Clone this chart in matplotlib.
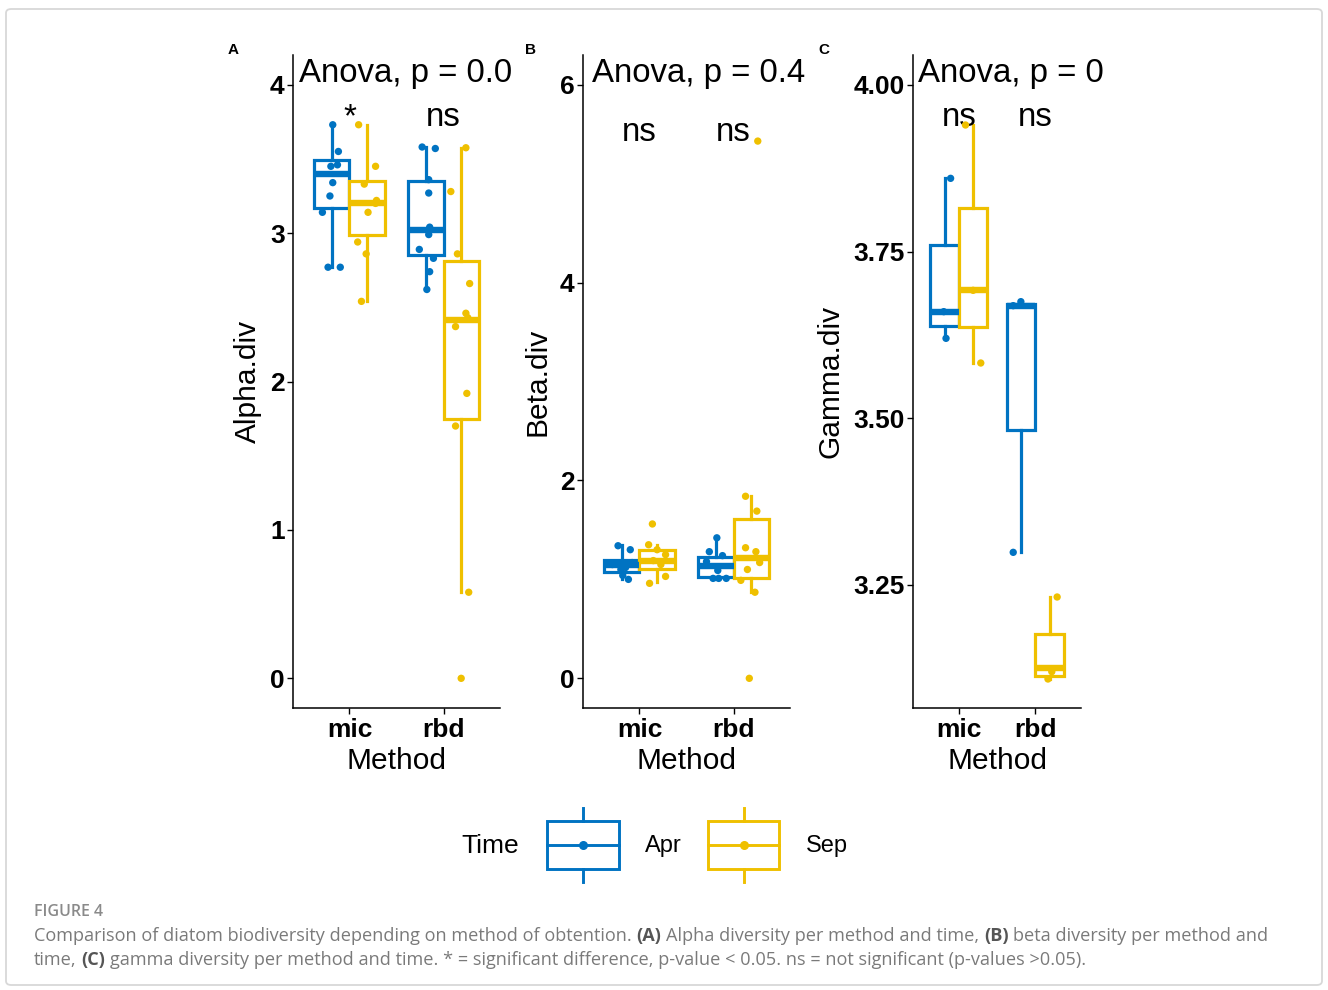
import matplotlib
matplotlib.use('Agg')
import matplotlib.pyplot as plt
from matplotlib.patches import Rectangle, FancyBboxPatch

plt.rcParams['font.family'] = ['Liberation Sans', 'DejaVu Sans']

BLUE = '#0073C2'
YELLOW = '#EFC000'

methods = ['mic', 'rbd']
times = ['Apr', 'Sep']

# box stats per group (mic-Apr, mic-Sep, rbd-Apr, rbd-Sep): lo whisker, q1, median, q3, hi whisker
alpha_stats = [[2.77, 3.17, 3.40, 3.49, 3.73],
               [2.54, 2.99, 3.20, 3.35, 3.73],
               [2.62, 2.85, 3.02, 3.35, 3.58],
               [0.58, 1.75, 2.415, 2.81, 3.575]]
alpha_pts = [[3.73, 3.55, 3.45, 3.46, 3.34, 3.25, 3.14, 2.77, 2.77],
             [3.73, 3.45, 3.33, 3.22, 3.20, 3.14, 2.94, 2.86, 2.54],
             [3.58, 3.57, 3.36, 3.27, 3.04, 2.99, 2.89, 2.83, 2.74, 2.62],
             [3.575, 3.28, 2.86, 2.66, 2.46, 2.37, 2.43, 1.92, 1.70, 0.58, 0.0]]
alpha_jit = [[0.01, 0.07, -0.01, 0.06, 0.01, -0.02, -0.10, -0.04, 0.09],
             [-0.09, 0.09, -0.03, 0.10, 0.09, 0.01, -0.10, -0.01, -0.06],
             [-0.04, 0.10, 0.03, 0.03, 0.04, 0.03, -0.07, 0.08, 0.04, 0.01],
             [0.05, -0.11, -0.04, 0.09, 0.05, -0.06, 0.07, 0.06, -0.06, 0.08, 0.0]]

beta_stats = [[1.00, 1.07, 1.15, 1.20, 1.35],
              [0.97, 1.10, 1.19, 1.30, 1.35],
              [1.00, 1.02, 1.14, 1.23, 1.42],
              [0.87, 1.01, 1.22, 1.61, 1.84]]
beta_pts = [[1.34, 1.30, 1.00, 1.04, 1.15, 1.12, 1.17, 1.10],
            [1.56, 1.35, 1.30, 1.25, 0.96, 1.03, 1.19, 1.15],
            [1.42, 1.28, 1.09, 1.01, 1.01, 1.01, 1.24, 1.18],
            [1.84, 1.69, 1.32, 1.28, 1.17, 1.10, 0.99, 0.87, 0.0, 5.43]]
beta_jit = [[-0.04, 0.09, 0.07, 0.01, -0.10, 0.04, 0.11, -0.01],
            [-0.05, -0.09, 0.0, 0.09, -0.08, 0.09, -0.04, 0.04],
            [0.01, -0.07, 0.02, -0.03, 0.03, 0.11, 0.07, -0.10],
            [-0.06, 0.06, -0.06, 0.05, 0.09, -0.04, -0.11, 0.04, -0.02, 0.07]]

gamma_stats = [[3.620, 3.639, 3.660, 3.760, 3.860],
               [3.583, 3.637, 3.692, 3.816, 3.940],
               [3.299, 3.483, 3.669, 3.671, 3.675],
               [3.109, 3.114, 3.125, 3.176, 3.232]]
gamma_pts = [[3.86, 3.62, 3.66],
             [3.94, 3.583, 3.692],
             [3.675, 3.669, 3.299],
             [3.232, 3.109, 3.12]]
gamma_jit = [[0.08, 0.02, -0.01],
             [-0.10, 0.10, 0.0],
             [0.0, -0.10, -0.10],
             [0.10, -0.02, 0.03]]

W, H = 1328, 990
fig = plt.figure(figsize=(W / 100, H / 100), dpi=100)


def px_axes(x0, y0, x1, y1):
    return fig.add_axes([x0 / W, 1 - y1 / H, (x1 - x0) / W, (y1 - y0) / H])


def draw_panel(ax, stats, pts, jit, ylim, yticks, yticklabels, ylabel,
               anova, anova_x, sig, sig_y):
    colors = [BLUE, YELLOW, BLUE, YELLOW]
    positions = [0.8125, 1.1875, 1.8125, 2.1875]
    for st, p, c, vals, jj in zip(stats, positions, colors, pts, jit):
        lo, q1, med, q3, hi = st
        ax.bxp([dict(med=med, q1=q1, q3=q3, whislo=lo, whishi=hi, fliers=[])],
               positions=[p], widths=0.375, patch_artist=True,
               showcaps=False, showfliers=False, manage_ticks=False,
               boxprops=dict(facecolor='white', edgecolor=c, linewidth=2.3),
               whiskerprops=dict(color=c, linewidth=2.3),
               medianprops=dict(color=c, linewidth=4.6, solid_capstyle='butt'))
        ax.scatter([p + j for j in jj], vals, s=28, color=c, zorder=5,
                   edgecolors='none')
    ax.set_xlim(0.4, 2.6)
    ax.set_ylim(*ylim)
    ax.set_xticks([1, 2], methods, fontweight='bold', fontsize=19)
    ax.set_yticks(yticks, yticklabels, fontweight='bold', fontsize=19)
    ax.tick_params(direction='out', length=4, width=1.0, pad=2)
    ax.tick_params(axis='x', pad=3)
    for s in ['top', 'right']:
        ax.spines[s].set_visible(False)
    for s in ['left', 'bottom']:
        ax.spines[s].set_linewidth(1.1)
    ax.set_ylabel(ylabel, fontsize=21.5, labelpad=6)
    ax.set_xlabel('Method', fontsize=21.5, labelpad=4)
    ax.text(anova_x, 0.958, anova, transform=ax.transAxes, fontsize=23.8,
            va='baseline', ha='left', clip_on=False)
    for i, lab in enumerate(sig):
        ax.text(i + 1, sig_y, lab, fontsize=23.8, ha='center', va='center')


axA = px_axes(293, 55, 500, 708)
draw_panel(axA, alpha_stats, alpha_pts, alpha_jit, (-0.2, 4.2),
           [0, 1, 2, 3, 4], ['0', '1', '2', '3', '4'], 'Alpha.div',
           'Anova, p = 0.0', 0.029, ['*', 'ns'], 3.78)

axB = px_axes(583, 55, 790, 708)
draw_panel(axB, beta_stats, beta_pts, beta_jit, (-0.3, 6.3),
           [0, 2, 4, 6], ['0', '2', '4', '6'], 'Beta.div',
           'Anova, p = 0.4', 0.043, ['ns', 'ns'], 5.52)

axC = px_axes(913, 55, 1081, 708)
draw_panel(axC, gamma_stats, gamma_pts, gamma_jit, (3.0655, 4.045),
           [3.25, 3.50, 3.75, 4.00], ['3.25', '3.50', '3.75', '4.00'], 'Gamma.div',
           'Anova, p = 0', 0.03, ['ns', 'ns'], 3.951)

# panel letters
for lab, x in zip(['A', 'B', 'C'], [233, 530, 824]):
    fig.text(x / W, 1 - 50 / H, lab, fontweight='bold', fontsize=11,
             ha='center', va='center')

# legend
fig.text(490 / W, 1 - 846 / H, 'Time', fontsize=19, ha='center', va='center')
for (x0, x1), c, lab, lx in zip([(546, 620), (707, 780)], [BLUE, YELLOW],
                                times, [663, 827]):
    k = px_axes(x0, 808, x1, 882)
    k.set_xlim(0, 1)
    k.set_ylim(0, 1)
    k.axis('off')
    k.plot([0.5, 0.5], [0, 0.18], color=c, lw=2.1, clip_on=False)
    k.plot([0.5, 0.5], [0.82, 1], color=c, lw=2.1, clip_on=False)
    k.add_patch(Rectangle((0.02, 0.18), 0.96, 0.64, facecolor='white',
                          edgecolor=c, lw=2.1, clip_on=False))
    k.plot([0.02, 0.98], [0.5, 0.5], color=c, lw=2.1, clip_on=False)
    k.scatter([0.5], [0.5], s=30, color=c, zorder=5, clip_on=False)
    fig.text(lx / W, 1 - 846 / H, lab, fontsize=17, ha='center', va='center')

# frame
fig.patches.append(FancyBboxPatch((6 / W, 1 - 985 / H), 1316 / W, 976 / H,
                                  boxstyle='round,pad=0,rounding_size=0.004',
                                  transform=fig.transFigure, fill=False,
                                  edgecolor='#d8d8d8', lw=1.3))

# caption
CAP = '#7a7a7a'
fig.text(34 / W, 1 - 912 / H, 'FIGURE 4', fontsize=11.5, color='#8a8a8a',
         family='Open Sans', fontweight='semibold', va='center', ha='left')

renderer = fig.canvas.get_renderer()


def draw_line(pieces, x, y, size=13.1):
    sp = fig.text(0, 0, 'a a', fontsize=size, family='Open Sans')
    nsp = fig.text(0, 0, 'aa', fontsize=size, family='Open Sans')
    space = (sp.get_window_extent(renderer).width -
             nsp.get_window_extent(renderer).width)
    sp.remove()
    nsp.remove()
    xp = x
    for txt, bold in pieces:
        t = fig.text(xp / W, 1 - y / H, txt, fontsize=size, family='Open Sans',
                     fontweight='bold' if bold else 'normal',
                     color='#555555' if bold else CAP, va='center', ha='left')
        xp += t.get_window_extent(renderer).width + space


draw_line([('Comparison of diatom biodiversity depending on method of obtention.', False),
           ('(A)', True), ('Alpha diversity per method and time,', False),
           ('(B)', True), ('beta diversity per method and', False)], 34, 936)
draw_line([('time,', False), ('(C)', True),
           ('gamma diversity per method and time. * = significant difference, '
            'p-value < 0.05. ns = not significant (p-values >0.05).', False)], 34, 960)

fig.savefig('out.png', dpi=100)
